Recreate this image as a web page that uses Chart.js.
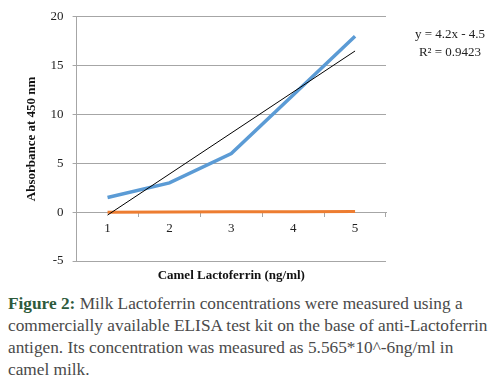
<!DOCTYPE html>
<html>
<head>
<meta charset="utf-8">
<script src="https://cdn.jsdelivr.net/npm/chart.js@4/dist/chart.umd.min.js"></script>
<style>
  html, body { margin: 0; padding: 0; background: #fff; }
  body { width: 499px; height: 385px; overflow: hidden; position: relative; }
  #wrap { position: absolute; left: 0; top: 0; width: 499px; height: 290px; }
  #eq { position: absolute; left: 405px; top: 25px; width: 90px; text-align: center;
        font-family: "Liberation Serif", "DejaVu Serif", serif; font-size: 13px; line-height: 18px; color: #222; }
  #cap { position: absolute; left: 8px; top: 293px; width: 490px;
         font-family: "Liberation Serif", "DejaVu Serif", serif; font-size: 17.3px; line-height: 22px; color: #4a4a4a; }
  #cap b { color: #2e5a3c; }
</style>
</head>
<body>
<div id="wrap"><canvas id="c"></canvas></div>
<div id="eq">y = 4.2x - 4.5<br>R² = 0.9423</div>
<div id="cap"><b>Figure 2:</b> Milk Lactoferrin concentrations were measured using a commercially available ELISA test kit on the base of anti-Lactoferrin antigen. Its concentration was measured as 5.565*10^-6ng/ml in camel milk.</div>
<script>
const categories = ["1", "2", "3", "4", "5"];
const absorbance = [1.5, 3, 6, 12, 18];
const control = [0.0, 0.01, 0.03, 0.05, 0.07];
const trendline = [-0.3, null, null, null, 16.5];
const yTicks = [-5, 0, 5, 10, 15, 20];

const serif = "'Liberation Serif', 'DejaVu Serif', serif";

new Chart(document.getElementById('c'), {
  type: 'line',
  data: {
    labels: categories,
    datasets: [
      { data: trendline, borderColor: '#000', borderWidth: 1, pointRadius: 0, spanGaps: true, tension: 0, order: 0 },
      { data: absorbance, borderColor: '#5B9BD5', borderWidth: 3.5, pointRadius: 0, tension: 0, order: 1 },
      { data: control, borderColor: '#ED7D31', borderWidth: 3, pointRadius: 0, tension: 0, order: 2 }
    ]
  },
  options: {
    responsive: true,
    maintainAspectRatio: false,
    animation: false,
    layout: { padding: { left: 22, right: 113, top: 6, bottom: 29 } },
    plugins: { legend: { display: false }, tooltip: { enabled: false } },
    scales: {
      x: {
        type: 'category',
        position: { y: 0 },
        offset: true,
        grid: { offset: true, drawOnChartArea: false, drawTicks: true, tickLength: 4, color: '#a6a6a6' },
        border: { color: '#a6a6a6', width: 1 },
        ticks: { color: '#222', font: { family: serif, size: 13 }, padding: 5 },
        title: { display: true, text: 'Camel Lactoferrin (ng/ml)', color: '#111',
                 font: { family: serif, size: 13, weight: 'bold' }, padding: { top: 26 } }
      },
      y: {
        min: -5, max: 20,
        afterBuildTicks: (s) => { s.ticks = yTicks.map(v => ({ value: v })); },
        grid: { color: '#a6a6a6', tickLength: 4 },
        border: { color: '#a6a6a6' },
        ticks: { color: '#222', font: { family: serif, size: 13 }, padding: 9 },
        title: { display: true, text: 'Absorbance at 450 nm', color: '#111',
                 font: { family: serif, size: 13, weight: 'bold' }, padding: 2 }
      }
    }
  }
});
</script>
</body>
</html>
